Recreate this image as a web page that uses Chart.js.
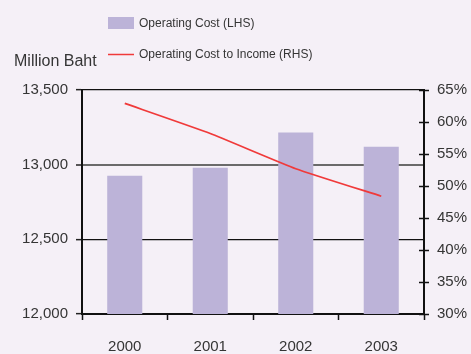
<!DOCTYPE html>
<html>
<head>
<meta charset="utf-8">
<script src="https://cdn.jsdelivr.net/npm/chart.js@4/dist/chart.umd.min.js"></script>
<style>
  html, body { margin: 0; padding: 0; background: #F5F0F7; }
  #wrap { width: 471px; height: 354px; position: relative; }
</style>
</head>
<body>
<div id="wrap"><canvas id="c" width="471" height="354"></canvas></div>
<script>
const categories = ['2000', '2001', '2002', '2003'];
const operatingCost = [12925, 12980, 13215, 13120];
const costToIncome = [62.9, 58.2, 52.7, 48.4];
const leftTicks = [12000, 12500, 13000, 13500];
const rightTicks = [30, 35, 40, 45, 50, 55, 60, 65];
const seriesNames = ['Operating Cost (LHS)', 'Operating Cost to Income (RHS)'];
const leftAxisTitle = 'Million Baht';

const BG = '#F5F0F7';
const BAR = '#BCB3D8';
const LINE = '#F03A3A';
const TXT = '#353535';
const FONT = "'Liberation Sans', Arial, sans-serif";

const bgPlugin = {
  id: 'bg',
  beforeDraw(chart) {
    const ctx = chart.ctx;
    ctx.save();
    ctx.fillStyle = BG;
    ctx.fillRect(0, 0, chart.width, chart.height);
    ctx.restore();
  }
};

const decorPlugin = {
  id: 'decor',
  afterDraw(chart) {
    const ctx = chart.ctx;
    ctx.save();
    // legend
    ctx.fillStyle = BAR;
    ctx.fillRect(108, 17, 26, 12);
    ctx.strokeStyle = LINE;
    ctx.lineWidth = 1.5;
    ctx.beginPath();
    ctx.moveTo(108, 54.5);
    ctx.lineTo(134, 54.5);
    ctx.stroke();
    ctx.fillStyle = TXT;
    ctx.font = '12px ' + FONT;
    ctx.textBaseline = 'middle';
    ctx.textAlign = 'left';
    ctx.fillText(chart.data.datasets[0].label, 139, 24);
    ctx.fillText(chart.data.datasets[1].label, 139, 55);
    // axis title
    ctx.font = '16px ' + FONT;
    ctx.fillText(leftAxisTitle, 14, 62);
    // inner ticks on right axis
    const s = chart.scales.y1;
    ctx.strokeStyle = '#111';
    ctx.lineWidth = 1.5;
    s.ticks.forEach(t => {
      const y = Math.round(s.getPixelForValue(t.value)) + 0.5;
      ctx.beginPath();
      ctx.moveTo(s.left - 5, y);
      ctx.lineTo(s.left, y);
      ctx.stroke();
    });
    ctx.restore();
  }
};

new Chart(document.getElementById('c'), {
  data: {
    labels: categories,
    datasets: [
      {
        type: 'bar',
        label: seriesNames[0],
        data: operatingCost,
        backgroundColor: BAR,
        borderWidth: 0,
        categoryPercentage: 1,
        barPercentage: 0.41,
        yAxisID: 'y',
        order: 1
      },
      {
        type: 'line',
        label: seriesNames[1],
        data: costToIncome,
        borderColor: LINE,
        borderWidth: 1.8,
        pointRadius: 0,
        tension: 0.15,
        fill: false,
        yAxisID: 'y1',
        order: 0
      }
    ]
  },
  options: {
    responsive: false,
    animation: false,
    devicePixelRatio: 1,
    layout: { padding: { top: 90, left: 0, right: 0, bottom: 0 } },
    plugins: { legend: { display: false }, tooltip: { enabled: false } },
    scales: {
      x: {
        position: 'bottom',
        grid: {
          offset: true,
          drawOnChartArea: false,
          drawTicks: true,
          tickLength: 6,
          tickColor: '#111',
          tickWidth: 1.5
        },
        border: { display: true, color: '#111', width: 2 },
        ticks: { color: TXT, font: { family: FONT, size: 15 }, padding: 18, maxRotation: 0 },
        afterFit(scale) { scale.height = 40; }
      },
      y: {
        position: 'left',
        min: 12000,
        max: 13500,
        afterBuildTicks(scale) { scale.ticks = leftTicks.map(v => ({ value: v })); },
        grid: {
          color: ctx => (ctx.tick && ctx.tick.value === 13000) ? '#6a6a6a' : '#111',
          lineWidth: ctx => (ctx.tick && ctx.tick.value === 13000) ? 2 : 1.3,
          tickLength: 6,
          tickColor: '#222',
          tickWidth: 1.5
        },
        border: { display: true, color: '#111', width: 2 },
        ticks: {
          color: TXT,
          font: { family: FONT, size: 15 },
          padding: 8,
          callback: v => Number(v).toLocaleString('en-US')
        },
        afterFit(scale) { scale.width = 82; }
      },
      y1: {
        position: 'right',
        min: 30,
        max: 65,
        afterBuildTicks(scale) { scale.ticks = rightTicks.map(v => ({ value: v })); },
        grid: {
          drawOnChartArea: false,
          tickLength: 5,
          tickColor: '#111',
          tickWidth: 1.5
        },
        border: { display: true, color: '#111', width: 2 },
        ticks: {
          color: TXT,
          font: { family: FONT, size: 15 },
          padding: 8,
          callback: v => v + '%'
        },
        afterFit(scale) { scale.width = 47; }
      }
    }
  },
  plugins: [bgPlugin, decorPlugin]
});
</script>
</body>
</html>
